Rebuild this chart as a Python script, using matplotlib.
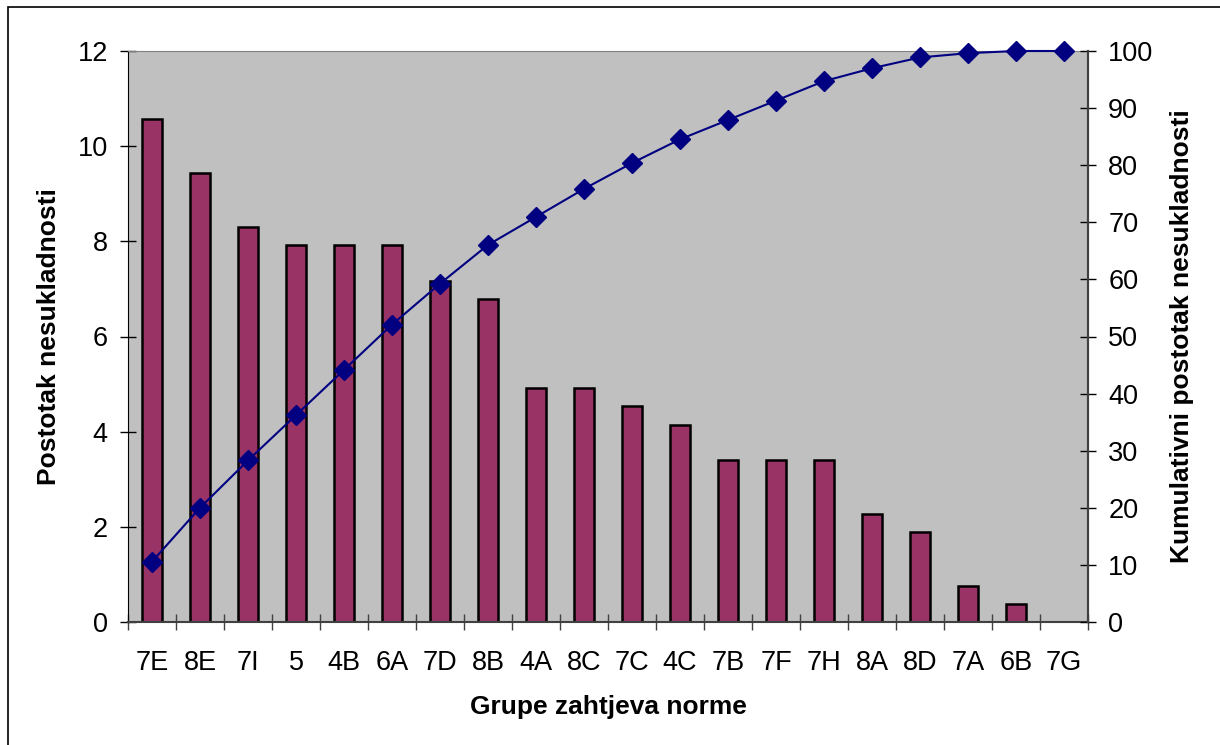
import matplotlib
matplotlib.use("Agg")
import matplotlib.pyplot as plt
from matplotlib.patches import Rectangle
import numpy as np

categories = ["7E", "8E", "7I", "5", "4B", "6A", "7D", "8B", "4A", "8C",
              "7C", "4C", "7B", "7F", "7H", "8A", "8D", "7A", "6B", "7G"]
percent = [10.57, 9.43, 8.30, 7.92, 7.92, 7.92, 7.17, 6.79, 4.91, 4.91,
           4.53, 4.15, 3.40, 3.40, 3.40, 2.26, 1.89, 0.75, 0.38, 0.00]
cumulative = [10.57, 20.00, 28.30, 36.23, 44.15, 52.08, 59.25, 66.04, 70.94, 75.85,
              80.38, 84.53, 87.92, 91.32, 94.72, 96.98, 98.87, 99.62, 100.00, 100.00]
left_ticks = [0, 2, 4, 6, 8, 10, 12]
right_ticks = [0, 10, 20, 30, 40, 50, 60, 70, 80, 90, 100]

plt.rcParams['font.family'] = ['Liberation Sans', 'DejaVu Sans']

fig = plt.figure(figsize=(12.2, 7.45), dpi=100)
W, H = 1220, 745
x0, x1, y0, y1 = 128, 1088, 51, 622
ax = fig.add_axes([x0 / W, 1 - y1 / H, (x1 - x0) / W, (y1 - y0) / H])
ax.set_facecolor("#C0C0C0")

n = len(categories)
x = np.arange(n)
bars = ax.bar(x, percent, width=0.42, color="#993366", edgecolor="black", linewidth=1.8, zorder=2)
for b, v in zip(bars, percent):
    if v == 0:
        b.set_visible(False)
ax.set_xlim(-0.5, n - 0.5)
ax.set_ylim(0, 12)
ax.set_yticks(left_ticks)
ax.set_yticklabels([str(t) for t in left_ticks], fontsize=19.5)
ax.set_xticks(np.arange(n + 1) - 0.5)
ax.set_xticklabels([])
ax.set_xticks(x, minor=True)
ax.set_xticklabels(categories, minor=True, fontsize=19.5)
ax.tick_params(axis="x", which="major", direction="inout", length=12, width=1, color="#404040")
ax.tick_params(axis="x", which="minor", length=0, pad=20)
ax.tick_params(axis="y", direction="inout", length=12, width=1, pad=8.5)
ax.spines["top"].set_color("#808080")
ax.spines["bottom"].set_color("#404040")
ax.spines["bottom"].set_linewidth(1.5)
ax.spines["left"].set_color("black")
ax.spines["right"].set_color("#404040")
ax.spines["right"].set_linewidth(1.5)

ax2 = ax.twinx()
ax2.plot(x, cumulative, color="#000080", linewidth=1.5, marker="D", markersize=10,
         markerfacecolor="#000080", markeredgecolor="#000080", zorder=3, clip_on=False)
ax2.set_ylim(0, 100)
ax2.set_yticks(right_ticks)
ax2.set_yticklabels([str(t) for t in right_ticks], fontsize=19.5)
ax2.tick_params(axis="y", direction="inout", length=12, width=1, pad=8.5)
ax2.spines["right"].set_color("#404040")
ax2.spines["right"].set_linewidth(1.5)
ax2.spines["top"].set_visible(False)
ax2.spines["left"].set_visible(False)
ax2.spines["bottom"].set_visible(False)

ax.set_ylabel("Postotak nesukladnosti", fontsize=19, fontweight="bold", labelpad=12)
ax2.set_ylabel("Kumulativni postotak nesukladnosti", fontsize=19, fontweight="bold", labelpad=12)
ax.set_xlabel("Grupe zahtjeva norme", fontsize=19, fontweight="bold", labelpad=14)

fig.patches.append(Rectangle((8 / W, -0.1), 1.2, 1 - 7 / H + 0.1, transform=fig.transFigure,
                             fill=False, edgecolor="black", linewidth=1.2))

fig.savefig("out.png", dpi=100)
